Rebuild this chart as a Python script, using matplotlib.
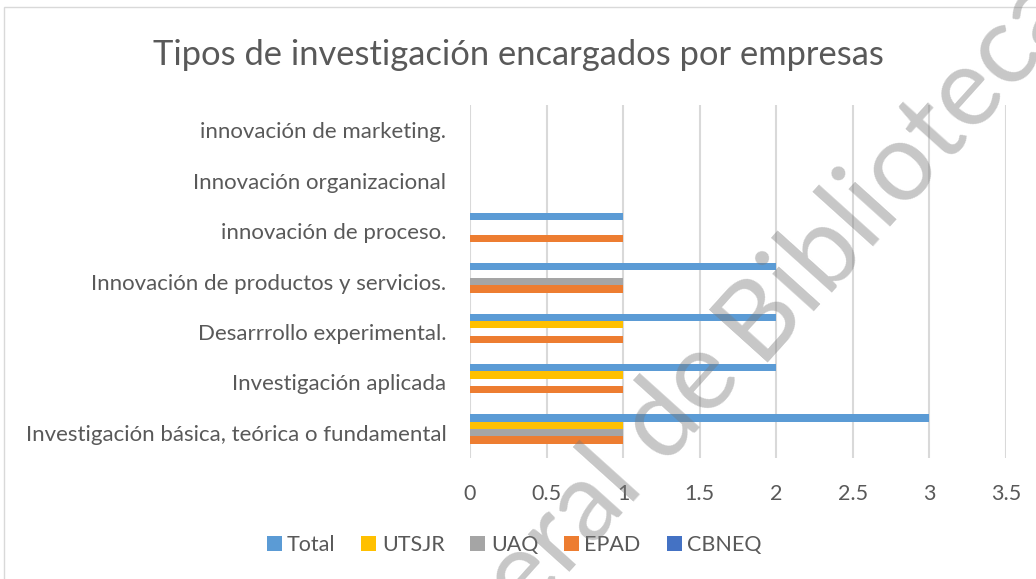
import matplotlib
matplotlib.use("Agg")
import matplotlib.pyplot as plt
import numpy as np
from matplotlib.patches import Rectangle

plt.rcParams['font.family'] = ['Lato', 'DejaVu Sans']

categories = [
    "Investigación básica, teórica o fundamental",
    "Investigación aplicada",
    "Desarrrollo experimental.",
    "Innovación de productos y servicios.",
    "innovación de proceso.",
    "Innovación organizacional",
    "innovación de marketing.",
]
series_names = ["Total", "UTSJR", "UAQ", "EPAD", "CBNEQ"]
total = [3, 2, 2, 2, 1, 0, 0]
utsjr = [1, 1, 1, 0, 0, 0, 0]
uaq = [1, 0, 0, 1, 0, 0, 0]
epad = [1, 1, 1, 1, 1, 0, 0]
cbneq = [0, 0, 0, 0, 0, 0, 0]
colors = ["#5B9BD5", "#FFC000", "#A5A5A5", "#ED7D31", "#4472C4"]
xticks = [0, 0.5, 1, 1.5, 2, 2.5, 3, 3.5]
xticklabels = ["0", "0.5", "1", "1.5", "2", "2.5", "3", "3.5"]

W, H = 1036, 579
fig = plt.figure(figsize=(W / 100, H / 100), dpi=100)
ax = fig.add_axes([470 / W, 1 - 458 / H, 536 / W, 353 / H])

y = np.arange(len(categories))
h = 0.146
data = [total, utsjr, uaq, epad, cbneq]
for k, (name, vals, c) in enumerate(zip(series_names, data, colors)):
    ax.barh(y + (2 - k) * h, vals, height=h, color=c, label=name, zorder=3)

ax.set_xlim(0, 3.5)
ax.set_ylim(-0.5, len(categories) - 0.5)
ax.set_xticks(xticks)
ax.set_xticklabels(xticklabels)
ax.set_yticks(y)
ax.set_yticklabels(categories)
ax.tick_params(axis='both', length=0, labelsize=15.5, labelcolor="#595959")
ax.tick_params(axis='y', labelsize=16, pad=17)
ax.tick_params(axis='x', pad=19)
ax.grid(axis='x', color="#D9D9D9", lw=1.5, zorder=0)
for s in ax.spines.values():
    s.set_visible(False)

fig.text(0.5, 1 - 55 / H, "Tipos de investigación encargados por empresas",
         ha='center', va='center', fontsize=24.8, color="#595959")

handles, labels = ax.get_legend_handles_labels()
fig.legend(handles, labels, loc='center', bbox_to_anchor=(514 / W, 1 - 545 / H),
           ncol=5, frameon=False, fontsize=15.5, labelcolor="#595959",
           handlelength=0.7, handleheight=0.7, handletextpad=0.25, columnspacing=1.2)

# chart border
fig.patches.append(Rectangle((4 / W, -0.1), 1.2, 1 - 7 / H + 0.1,
                             transform=fig.transFigure, fill=False,
                             edgecolor="#D9D9D9", lw=1))

# watermark
ang = 48
bx, by = 758, 362
fig.text(bx / W, 1 - by / H, "Bibliotecas", rotation=ang, rotation_mode='anchor',
         ha='left', va='baseline', fontsize=79, color="#7a7a7a", alpha=0.42, zorder=10)
dx, dy = 21 * np.cos(np.radians(ang)), 21 * np.sin(np.radians(ang))
fig.text((bx - dx) / W, 1 - (by + dy) / H, "Dirección General de", rotation=ang,
         rotation_mode='anchor', ha='right', va='baseline', fontsize=79,
         color="#7a7a7a", alpha=0.42, zorder=10)

fig.savefig("out.png", dpi=100)
